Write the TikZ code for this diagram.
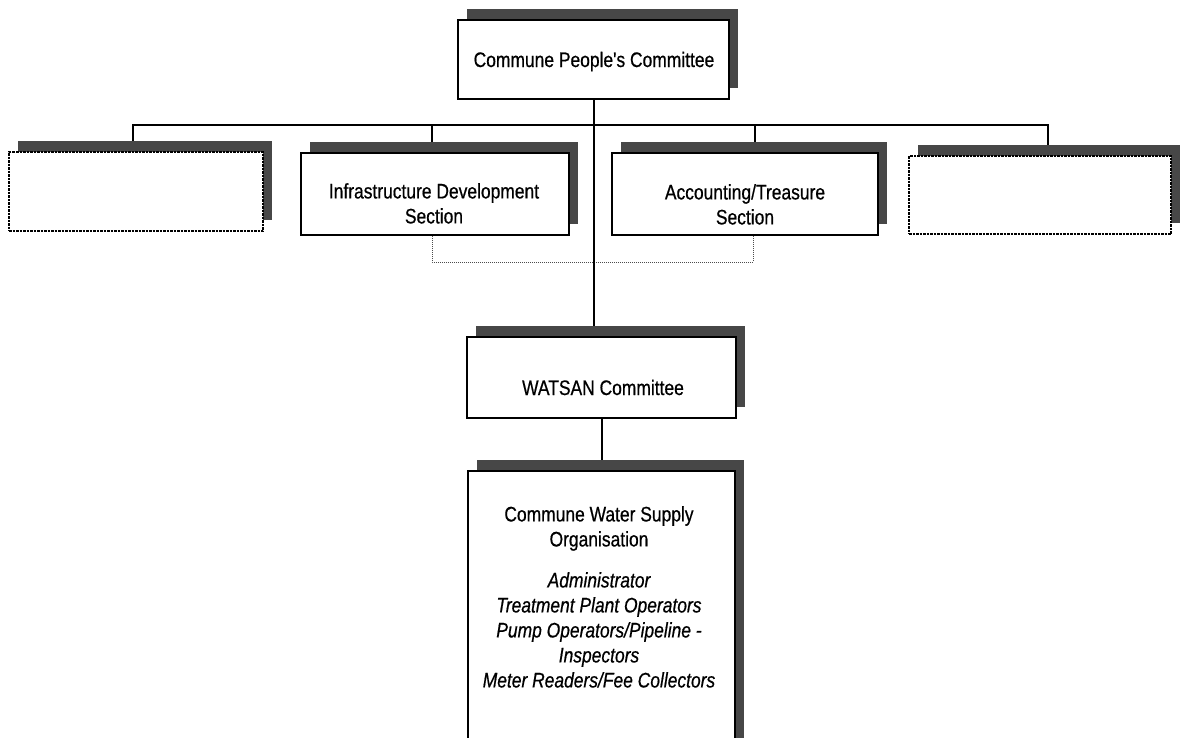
\documentclass[tikz,border=0pt]{standalone}
\usepackage{fontspec}
\setmainfont{Liberation Sans}
\newfontfamily\narrowfont[FakeStretch=0.83,FakeBold=0.6]{Liberation Sans}
\usetikzlibrary{shadows}
\pgfdeclarelayer{paper}
\pgfdeclarelayer{background}
\pgfsetlayers{paper,background,main}
\begin{document}
\begin{tikzpicture}[x=1pt,y=-1pt,
  boxshadow/.style={drop shadow={shadow xshift=9pt, shadow yshift=11pt, fill=black!72, opacity=1}},
  box/.style={rectangle, draw=black, line width=1.8pt, fill=white, inner sep=0pt, boxshadow},
  dbox/.style={rectangle, draw=black, line width=1.3pt, dash pattern=on 2.5pt off 1pt, fill=white, inner sep=0pt, boxshadow},
  txt/.style={font=\narrowfont\fontsize{21}{25}\selectfont, inner sep=0pt, align=center},
  conn/.style={draw=black, line width=2pt},
  dotbr/.style={draw=black!70, line width=0.9pt, dash pattern=on 1pt off 1pt}]
\useasboundingbox (0,0) rectangle (1181,737);
\clip (0,0) rectangle (1181,737);
\begin{pgfonlayer}{paper}
\fill[white] (0,0) rectangle (1181,737);
\end{pgfonlayer}

% boxes
\node[box,  minimum width=271pt, minimum height=79pt]  (top) at (593.5,59.5) {};
\node[dbox, minimum width=254pt, minimum height=79pt]  (b1)  at (136,191.5) {};
\node[box,  minimum width=268pt, minimum height=82pt]  (b2)  at (435,194) {};
\node[box,  minimum width=266pt, minimum height=82pt]  (b3)  at (745,194) {};
\node[dbox, minimum width=262pt, minimum height=78pt]  (b4)  at (1040,195) {};
\node[box,  minimum width=269pt, minimum height=81pt]  (ws)  at (601.5,377.5) {};
\node[box,  minimum width=267pt, minimum height=300pt] (cw)  at (601.5,621) {};

% texts
\node[txt, anchor=base]  (toptxt) at (594,67) {Commune People's Committee};
\node[txt, anchor=north] (b2txt) at (434,183) {Infrastructure Development\\Section};
\node[txt, anchor=north] (b3txt) at (745,184) {Accounting/Treasure\\Section};
\node[txt, anchor=base]  (wstxt) at (603,395) {WATSAN Committee};
\node[txt, anchor=north] (cwtxt) at (599,506) {Commune Water Supply\\Organisation\\[16pt]\itshape Administrator\\\itshape Treatment Plant Operators\\\itshape Pump Operators/Pipeline -\\\itshape Inspectors\\\itshape Meter Readers/Fee Collectors};

% connectors
\coordinate (busL) at (133,125);
\coordinate (busR) at (1048,125);
\coordinate (d2) at (432,125);
\coordinate (d3) at (755,125);
\coordinate (e2) at (432,262);
\coordinate (e3) at (753,262);
\begin{pgfonlayer}{background}
\draw[dotbr] (b2.south -| e2) -- (e2) -- (e3) -- (b3.south -| e3);
\draw[conn] (top.south) -- (top.south |- ws.north);
\draw[conn] (b1.north -| busL) -- (busL) -- (busR) -- (b4.north -| busR);
\draw[conn] (d2) -- (d2 |- b2.north);
\draw[conn] (d3) -- (d3 |- b3.north);
\draw[conn] (ws.south) -- (cw.north);
\end{pgfonlayer}
\end{tikzpicture}
\end{document}
